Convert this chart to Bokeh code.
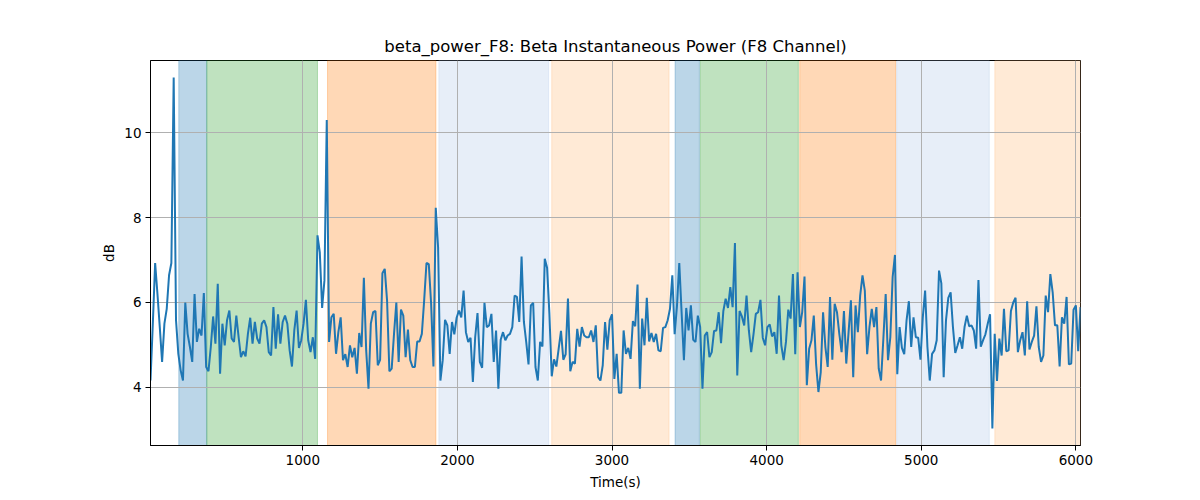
from bokeh.plotting import figure
from bokeh.models import Range1d, FixedTicker, BoxAnnotation
from bokeh.embed import file_html
from bokeh.resources import INLINE

# ---- data ----
sample_interval_s = 15

power_a = [4.16, 5.5, 6.93, 6.2, 5.42, 4.6, 5.5, 5.85, 6.64, 6.93,
           11.3, 5.58, 4.79, 4.4, 4.16, 6.0, 5.26, 4.95, 4.6, 6.2,
           5.07, 5.38, 5.22, 6.22, 4.48, 4.38, 4.95, 5.67, 5.03, 6.44,
           4.32, 5.5, 4.99, 5.58, 5.81, 5.15, 5.07, 5.69, 5.18, 4.71,
           4.85, 4.73, 5.26, 5.64, 5.03, 5.54, 5.15, 5.03, 5.5, 5.58,
           5.42, 4.83, 4.75, 5.89, 4.91, 5.72, 5.03, 5.54, 5.69, 5.5,
           4.87, 4.49, 5.34, 5.81, 4.93, 5.11, 5.5, 6.06, 5.11, 4.83]
power_b = [5.18, 4.67, 7.58, 7.18, 5.87, 6.52, 10.3,
           5.07, 5.65, 5.73, 4.79, 5.3, 5.65, 4.64, 4.78, 4.48, 4.99,
           4.71, 4.93, 4.32, 5.28, 4.95, 6.58, 4.87, 3.97, 5.5, 5.77,
           5.8, 4.52, 4.65, 6.69, 6.79, 6.05, 4.38, 4.44, 5.26, 6.0,
           4.6, 5.83, 5.69, 4.71, 5.36, 4.64, 4.48, 4.48, 5.08, 5.08,
           5.26, 6.05, 6.93, 6.9, 5.97, 4.49, 8.23, 7.3, 4.16, 4.64,
           5.59, 5.46, 4.79, 5.54, 5.25, 5.64, 5.81, 5.65, 6.28, 5.3]
power_c = [5.07, 5.17, 4.13, 5.18, 5.75, 4.6, 4.46, 5.99, 5.42, 5.46,
           5.73, 4.6, 5.34, 3.97, 5.12, 5.3, 5.11, 5.22, 5.26, 5.42,
           6.16, 6.13, 5.54, 7.08, 5.54, 5.07, 4.54, 5.93, 5.99, 4.48,
           4.16, 5.07, 4.96, 7.03, 6.82, 5.73, 4.26, 4.66, 4.49, 4.91,
           5.33, 4.65, 4.78, 6.09, 4.38, 4.6, 4.56, 5.38, 4.96, 5.42,
           5.22, 5.18, 5.18, 5.34, 5.07, 5.46, 4.24, 4.16, 4.52, 5.54,
           4.89, 5.58, 5.72, 4.2, 4.79, 3.87, 3.87]
power_d = [5.34, 4.79, 4.93, 4.67, 5.56, 5.44, 6.42, 3.97, 5.62, 4.99,
           6.11, 5.08, 5.28, 5.07, 5.26, 4.87, 4.85, 5.4, 5.42, 5.58,
           5.85, 6.64, 5.25, 5.91, 6.93, 5.77, 4.64, 5.87, 5.34, 5.93,
           5.12, 5.07, 5.69, 5.42, 3.97, 5.22, 5.3, 4.71, 4.83, 5.33,
           5.34, 5.77, 5.04, 5.8, 6.09, 5.87, 6.36, 5.89, 7.4, 4.28,
           5.8, 5.67, 5.46, 6.16, 5.34, 4.83, 5.25, 5.73, 5.77, 6.06,
           5.17, 4.99, 5.42, 5.48, 5.2, 5.3]
power_e = [4.79, 6.16, 4.99, 4.64, 5.07, 5.83, 5.62, 6.67, 4.78, 6.71,
           5.42, 5.77, 6.61, 4.05, 4.91, 5.11, 5.69, 4.54, 3.89, 4.36,
           5.77, 4.95, 4.48, 6.13, 4.65, 5.97, 5.77, 5.26, 4.83, 5.8,
           4.56, 5.3, 6.05, 4.24, 5.93, 5.3, 6.16, 6.64, 6.28, 4.78,
           5.42, 5.85, 5.42, 5.89, 4.44, 4.16, 5.15, 6.2, 4.64, 5.18,
           6.6, 7.12, 4.31, 5.42, 4.93, 4.78, 5.58, 6.03, 4.95, 5.65,
           5.18, 5.17, 4.65, 5.65, 6.28, 4.95, 4.16]
power_f = [4.79, 4.87, 5.11, 6.75, 6.45, 4.24, 5.58, 6.11, 6.24, 5.42,
           4.81, 4.99, 5.18, 4.91, 5.42, 5.69, 5.44, 5.46, 5.34, 4.91,
           6.53, 4.96, 5.11, 5.25, 5.5, 5.72, 3.03, 5.26, 4.15, 5.15,
           4.75, 5.85, 4.85, 4.87, 5.8, 6.0, 6.11, 4.83, 5.11, 5.3,
           4.75, 6.03, 4.89, 5.07, 5.22, 5.91, 4.95, 4.6, 4.75, 6.16,
           5.77, 6.67, 6.24, 5.46, 5.46, 4.49, 5.65, 5.5, 6.13, 4.54,
           4.56, 5.83, 5.93, 4.85, 5.89]

span_start = [198, 379, 1160, 1880, 2610, 3408, 3571, 4214, 4841, 5476]
span_end = [379, 1095, 1861, 2590, 3369, 3565, 4205, 4835, 5440, 6030]
span_color = ["#1f77b4", "#2ca02c", "#ff7f0e", "#aec7e8", "#ffbb78",
              "#1f77b4", "#2ca02c", "#ff7f0e", "#aec7e8", "#ffbb78"]

x_ticks = [1000, 2000, 3000, 4000, 5000, 6000]
y_ticks = [4, 6, 8, 10]

power_db = power_a + power_b + power_c + power_d + power_e + power_f
time_s = [sample_interval_s * (i + 1) for i in range(len(power_db))]

# ---- figure ----
FONT = "DejaVu Sans"
p = figure(frame_width=930, frame_height=385,
           min_border_left=150, min_border_right=112,
           min_border_top=60, min_border_bottom=47,
           x_range=Range1d(time_s[0], time_s[-1]),
           y_range=Range1d(2.63, 11.7),
           output_backend="svg", toolbar_location=None,
           title="beta_power_F8: Beta Instantaneous Power (F8 Channel)")

p.title.align = "center"
p.title.text_font = FONT
p.title.text_font_size = "16.5px"
p.title.text_font_style = "normal"
p.title.text_color = "black"

for s, e, c in zip(span_start, span_end, span_color):
    p.add_layout(BoxAnnotation(left=s, right=e, fill_color=c, fill_alpha=0.3,
                               line_color=c, line_alpha=0.3, line_width=1,
                               level="image"))

p.line(time_s, power_db, line_color="#1f77b4", line_width=2)

p.outline_line_color = "black"
p.outline_line_width = 1
p.outline_line_alpha = 1

for ax in (p.xaxis[0], p.yaxis[0]):
    ax.axis_line_color = "black"
    ax.major_tick_line_color = "black"
    ax.major_tick_in = 0
    ax.major_tick_out = 5
    ax.minor_tick_line_color = None
    ax.major_label_text_font = FONT
    ax.major_label_text_font_size = "13.5px"
    ax.major_label_text_color = "black"
    ax.axis_label_text_font = FONT
    ax.axis_label_text_font_size = "13.5px"
    ax.axis_label_text_font_style = "normal"
    ax.axis_label_text_color = "black"

p.xaxis.ticker = FixedTicker(ticks=x_ticks)
p.yaxis.ticker = FixedTicker(ticks=y_ticks)
p.xaxis.axis_label = "Time(s)"
p.yaxis.axis_label = "dB"
p.xaxis.major_label_standoff = 4
p.yaxis.major_label_standoff = 4
p.xaxis.axis_label_standoff = 6
p.yaxis.axis_label_standoff = 4

p.grid.grid_line_color = "#b0b0b0"
p.grid.grid_line_width = 1
p.xgrid.ticker = FixedTicker(ticks=x_ticks)
p.ygrid.ticker = FixedTicker(ticks=y_ticks)

p.background_fill_color = "white"
p.border_fill_color = "white"

open("out.html", "w").write(file_html(p, INLINE))
